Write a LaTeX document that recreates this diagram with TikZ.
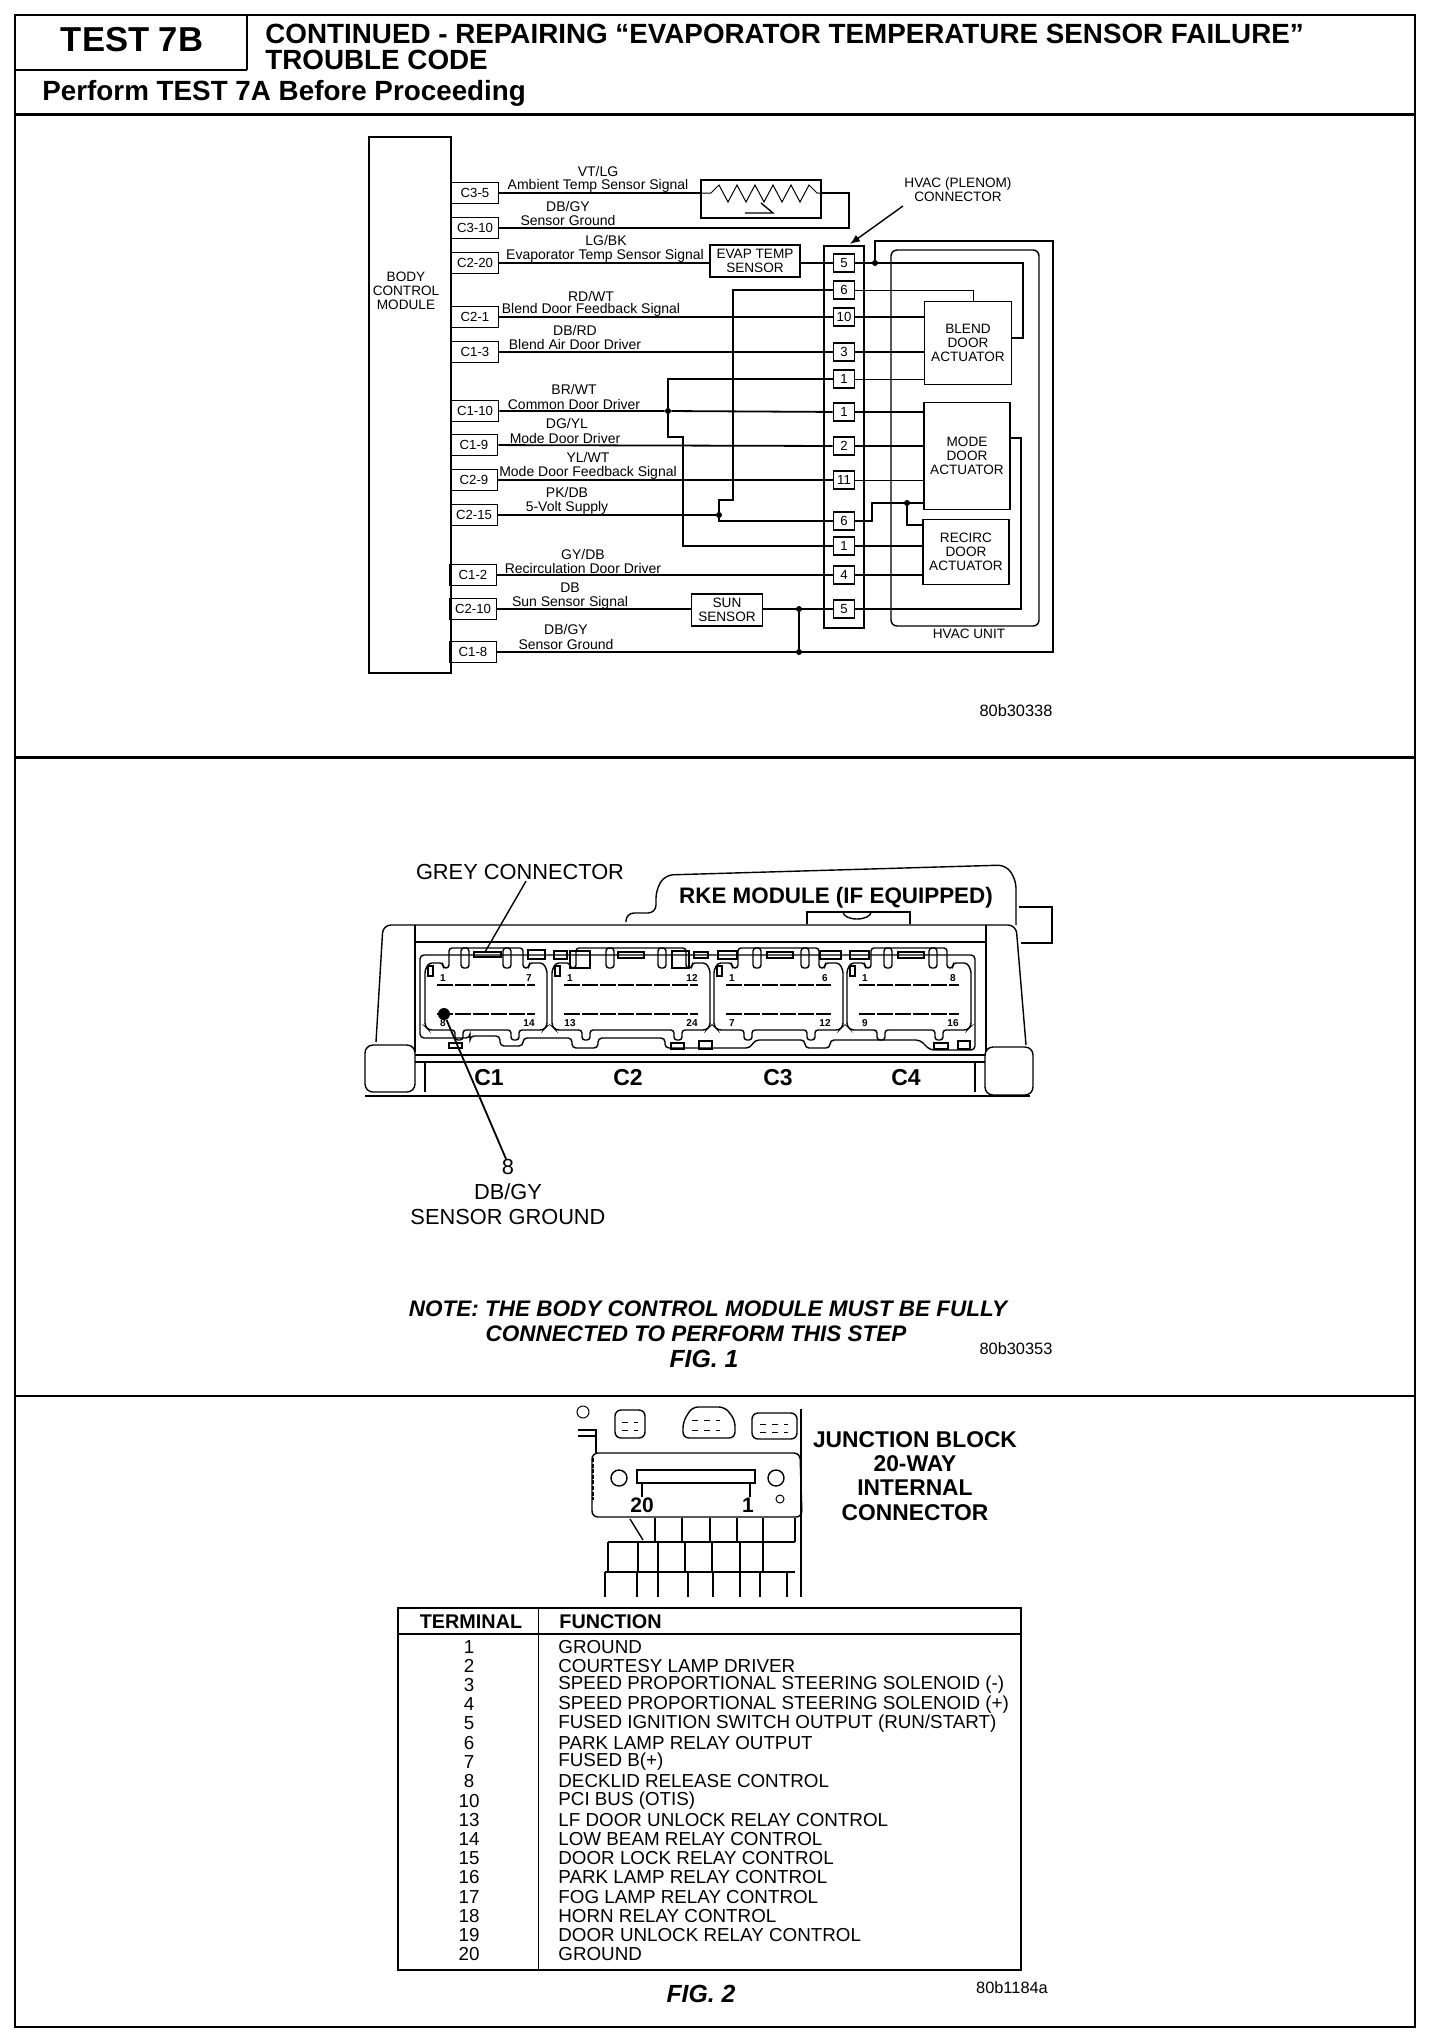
\documentclass[tikz,border=0pt]{standalone}
\usepackage{fontspec}
\setmainfont{Liberation Sans}
\usetikzlibrary{calc}
\usetikzlibrary{positioning}
\usetikzlibrary{arrows.meta}
\newcommand{\fsz}[2]{\fontsize{#1}{#2}\selectfont}
\begin{document}
\begin{tikzpicture}[
    x = .5pt,
    y = -.5pt,
    frameline/.style = {line width=1.4pt},
    wire/.style = {line width=.9pt},
    thinwire/.style = {line width=.5pt},
    part/.style = {line width=.7pt},
    conn/.style = {
      rectangle,
      draw,
      line width=.8pt,
      minimum width=23.5pt,
      minimum height=10.5pt,
      inner sep=0pt,
      font=\fsz{6.6}{7}
    },
    pin/.style = {
      rectangle,
      draw,
      line width=.8pt,
      minimum width=10.5pt,
      minimum height=9pt,
      inner sep=0pt,
      font=\fsz{6.6}{7}
    },
    unit/.style = {
      rectangle,
      draw,
      line width=.8pt,
      inner sep=0pt,
      align=center,
      font=\fsz{6.8}{6.9}
    },
    sig/.style = {inner sep=0pt, font=\fsz{7}{7}},
    stamp/.style = {inner sep=0pt, font=\fsz{8.2}{9}},
    dot/.style = {circle, fill, inner sep=0pt, minimum size=3pt},
    small/.style = {inner sep=0pt, align=center, font=\fsz{6.8}{7}},
    head/.style = {inner sep=0pt, anchor=west, font=\bfseries\fsz{13.9}{14}},
    plain/.style = {inner sep=0pt, align=center, font=\fsz{10.9}{12.5}},
    bold/.style = {inner sep=0pt, align=center, font=\bfseries\fsz{11.4}{12.1}},
    conlabel/.style = {inner sep=0pt, font=\bfseries\fsz{11.5}{12}},
    note/.style = {inner sep=0pt, align=center, font=\bfseries\itshape\fsz{11.25}{12.4}},
    fig/.style = {inner sep=0pt, font=\bfseries\itshape\fsz{12.4}{13}},
    tiny/.style = {inner sep=0pt, font=\bfseries\fsz{5}{5}},
    row/.style = {inner sep=0pt, font=\fsz{9.4}{10}}
  ]
    \useasboundingbox (0,0) rectangle (1440,2042);
    % page frame and panels
    \draw[frameline] (15,15) rectangle (1415,2027);
    \draw[frameline] (15,70) -- (247,70);
    \draw[frameline] (247,15) -- (247,70);
    \draw[frameline] (15,114.5) -- (1415,114.5);
    \draw[frameline] (15,757.5) -- (1415,757.5);
    \draw[frameline] (15,1396) -- (1415,1396);
    \node[head, anchor=center, font=\bfseries\fsz{17.3}{18}] (test) at (132,40) {TEST 7B};
    \node[head] (title) at (265,34) {CONTINUED - REPAIRING ``EVAPORATOR TEMPERATURE SENSOR FAILURE''};
    \node[head] (trouble) at (265,60) {TROUBLE CODE};
    \node[head] (perform) at (42,93) {Perform TEST 7A Before Proceeding};

    % wiring panel
    \node[unit, minimum width=41pt, minimum height=268pt] (bcm) at (410,405) {};
    \node[small] (bcmtext) at (406,291) {BODY\\CONTROL\\MODULE};
    \node[conn] (c35) at (475,193) {C3-5};
    \node[conn] (c310) at (475,228) {C3-10};
    \node[conn] (c220) at (475,263) {C2-20};
    \node[conn] (c21) at (475,317) {C2-1};
    \node[conn] (c13) at (475,352) {C1-3};
    \node[conn] (c110) at (475,411) {C1-10};
    \node[conn] (c19) at (474,445) {C1-9};
    \node[conn] (c29) at (474,480) {C2-9};
    \node[conn] (c215) at (474,515) {C2-15};
    \node[conn] (c12) at (473,575) {C1-2};
    \node[conn] (c210) at (473,609) {C2-10};
    \node[conn] (c18) at (473,652) {C1-8};
    \node[unit, minimum width=60pt, minimum height=19pt] (ambient) at (761,199) {};
    \node[unit, minimum width=45pt, minimum height=16pt] (evap) at (755,261) {EVAP TEMP\\SENSOR};
    \node[unit, minimum width=35.5pt, minimum height=16pt] (sun) at (727,610) {SUN\\SENSOR};
    \node[unit, minimum width=20pt, minimum height=191pt] (strip) at (844,437) {};
    \node[unit, minimum width=43.5pt, minimum height=41.5pt] (blend) at (968,343) {BLEND\\DOOR\\ACTUATOR};
    \node[unit, minimum width=43pt, minimum height=53.5pt] (mode) at (967,456) {MODE\\DOOR\\ACTUATOR};
    \node[unit, minimum width=43pt, minimum height=32.5pt] (recirc) at (966,552) {RECIRC\\DOOR\\ACTUATOR};
    \node[pin] (p5) at (844,263) {5};
    \node[pin] (p6) at (844,290) {6};
    \node[pin] (p10) at (844,317) {10};
    \node[pin] (p3) at (844,352) {3};
    \node[pin] (p1a) at (844,379) {1};
    \node[pin] (p1b) at (844,412) {1};
    \node[pin] (p2) at (844,446) {2};
    \node[pin] (p11) at (844,480) {11};
    \node[pin] (p6b) at (844,521) {6};
    \node[pin] (p1c) at (844,546) {1};
    \node[pin] (p4) at (844,575) {4};
    \node[pin] (p5b) at (844,609) {5};

    \node[dot] (dota) at (875,263) {};
    \node[dot] (dotb) at (668,411) {};
    \node[dot] (dotc) at (719,515) {};
    \node[dot] (dotd) at (907,503) {};
    \node[dot] (dote) at (799,609) {};
    \node[dot] (dotf) at (799,652) {};

    \draw[wire] (c35) -- (c35 -| ambient.west);
    \draw[wire] (c310) -- (849,228) -- (849,193) -- (ambient.east |- c35);
    \draw[wire] (c220) -- (c220 -| evap.west);
    \draw[wire] (evap.east |- p5) -- (p5);
    \draw[wire] (p5) -- (1023,263) -- (1023,338) -- (blend.east |- 0,338);
    \draw[wire] (dota) -- (875,241) -- (1053,241) -- (1053,652) -- (dotf);
    \draw[wire] (c18) -- (dotf);
    \draw[wire] (dotf) -- (dote);
    \draw[wire] (c210) -- (sun.west |- c210);
    \draw[wire] (sun.east |- p5b) -- (p5b);
    \draw[wire] (p5b) -- (1021,609) -- (1021,438) -- (mode.east |- 0,438);
    \draw[thinwire] (p6) -- (973,290) -- (blend.north -| 973,0);
    \draw[wire] (p6) -- (733,290) -- (733,500) -- (719,500) -- (dotc);
    \draw[wire] (c215) -- (dotc);
    \draw[wire] (dotc) -- (719,521) -- (p6b);
    \draw[wire] (c21) -- (p10);
    \draw[wire] (p10) -- (p10 -| blend.west);
    \draw[wire] (c13) -- (p3);
    \draw[wire] (p3) -- (p3 -| blend.west);
    \draw[thinwire] (p1a) -- (p1a -| blend.west);
    \draw[wire] (p1a) -- (668,379) -- (dotb);
    \draw[wire] (c110) -- (dotb) -- (p1b);
    \draw[wire] (p1b) -- (p1b -| mode.west);
    \draw[wire] (dotb) -- (668,437) -- (683,437) -- (683,546) -- (p1c);
    \draw[wire] (c19) -- (p2);
    \draw[wire] (p2) -- (p2 -| mode.west);
    \draw[wire] (c29) -- (p11);
    \draw[thinwire] (p11) -- (p11 -| mode.west);
    \draw[wire] (p6b) -- (872,521) -- (872,503) -- (mode.west |- 0,503);
    \draw[wire] (dotd) -- (907,525) -- (recirc.west |- 0,525);
    \draw[wire] (p1c) -- (p1c -| recirc.west);
    \draw[wire] (c12) -- (p4);
    \draw[wire] (p4) -- (p4 -| recirc.west);
    % hvac unit outline
    \draw[part, rounded corners=3pt] (891,626) -- (891,250) -- (1039,250) -- (1039,626) -- cycle;
    \node[small] (hvacunit) at (969,634) {HVAC UNIT};
    \node[small] (plenom) at (958,190) {HVAC (PLENOM)\\CONNECTOR};
    \coordinate (plenomtail) at (903,206);
    \draw[part, -{Latex[length=5pt,width=4pt]}] (plenomtail) -- (850,244);
    % ambient sensor symbol
    \draw[thinwire] (ambient.west |- c35) -- (711,193) -- (719,185) -- (728,202) -- (737,185) -- (746,202)
      -- (755,185) -- (764,202) -- (773,185) -- (782,202) -- (791,185) -- (800,202) -- (809,185)
      -- (817,193) -- (ambient.east |- c35);
    \draw[part] (745,213) -- (773,213) -- (761,203);

    \node[sig] (s1) at (598,171) {VT/LG};
    \node[sig] (s2) at (598,186) {Ambient Temp Sensor Signal};
    \node[sig] (s3) at (568,206) {DB/GY};
    \node[sig] (s4) at (568,220) {Sensor Ground};
    \node[sig] (s5) at (606,240) {LG/BK};
    \node[sig] (s6) at (605,256) {Evaporator Temp Sensor Signal};
    \node[sig] (s7) at (591,296) {RD/WT};
    \node[sig] (s8) at (591,310) {Blend Door Feedback Signal};
    \node[sig] (s9) at (575,330) {DB/RD};
    \node[sig] (s10) at (575,344) {Blend Air Door Driver};
    \node[sig] (s11) at (574,389) {BR/WT};
    \node[sig] (s12) at (574,404) {Common Door Driver};
    \node[sig] (s13) at (567,423) {DG/YL};
    \node[sig] (s14) at (565,438) {Mode Door Driver};
    \node[sig] (s15) at (588,457) {YL/WT};
    \node[sig] (s16) at (588,473) {Mode Door Feedback Signal};
    \node[sig] (s17) at (567,492) {PK/DB};
    \node[sig] (s18) at (567,508) {5-Volt Supply};
    \node[sig] (s19) at (583,554) {GY/DB};
    \node[sig] (s20) at (583,568) {Recirculation Door Driver};
    \node[sig] (s21) at (570,588) {DB};
    \node[sig] (s22) at (570,603) {Sun Sensor Signal};
    \node[sig] (s23) at (566,629) {DB/GY};
    \node[sig] (s24) at (566,644) {Sensor Ground};
    \node[stamp] (fig0) at (1016,711) {80b30338};

    % body control module drawing
    \draw[part, rounded corners=4pt] (626,922) -- (626,913) -- (656,913) -- (656,890) -- (665,875) -- (1006,865) -- (1016,880) -- (1016,925);
    \draw[part] (1019,907) -- (1052,907) -- (1052,943) -- (1021,943);
    \draw[part] (807,924) -- (807,912) -- (910,912) -- (910,924);
    \draw[part] (843,912) arc (180:0:14 and 7);
    \draw[part, rounded corners=4pt] (376,1042) -- (383,925) -- (1016,925) -- (1026,1045);
    \draw[part] (415,925) -- (415,1052);
    \draw[part] (986,925) -- (986,1052);
    \draw[part] (415,942) -- (986,942);
    \draw[part, rounded corners=4pt] (365,1045) -- (415,1045) -- (415,1092) -- (365,1092) -- cycle;
    \draw[part, rounded corners=4pt] (985,1047) -- (1033,1047) -- (1033,1095) -- (985,1095) -- cycle;
    \draw[part] (415,1055) -- (986,1055);
    \draw[part] (415,1062) -- (985,1062);
    \draw[line width=1pt] (365,1096) -- (1030,1096);
    \draw[part] (425,1062) -- (425,1092);
    \draw[part] (975,1062) -- (975,1092);
    \foreach \xl/\xr/\la/\lb/\aa/\ab/\ac/\ad in {425/547/461/503/1/7/8/14, 552/710/606/658/1/12/13/24, 714/843/753/801/1/6/7/12, 847/971/884/929/1/8/9/16} {
      \draw[part, rounded corners=1.5pt] (\xl,970) -- (\xl+4,963) -- (\xl+18,963) -- (\xl+18,968)
        -- (\xl+24,968) -- (\xl+24,948) -- (\xr-24,948) -- (\xr-24,968) -- (\xr-18,968) -- (\xr-18,963)
        -- (\xr-4,963) -- (\xr,970) -- (\xr,1026) -- (\xr-4,1030) -- (\xr-28,1030) -- (\xr-28,1040)
        -- (\xr-36,1040) -- (\xr-36,1030) -- (\xl+38,1030) -- (\xl+38,1040) -- (\xl+30,1040)
        -- (\xl+30,1030) -- (\xl+4,1030) -- (\xl,1026) -- cycle;
      \draw[part, rounded corners=1.5pt] (\la,948) rectangle (\la+8,968);
      \draw[part, rounded corners=1.5pt] (\lb,948) rectangle (\lb+8,968);
      \draw[part] (\xl+3,966) rectangle (\xl+8,976);
      \draw[line width=1.4pt, dash pattern=on 8pt off 1pt] (\xl+12,985) -- (\xr-12,985);
      \draw[line width=1.4pt, dash pattern=on 8pt off 1pt] (\xl+12,1014) -- (\xr-12,1014);
      \node[tiny] at (\xl+18,978) {\aa};
      \node[tiny] at (\xr-18,978) {\ab};
      \node[tiny] at (\xl+18,1023) {\ac};
      \node[tiny] at (\xr-18,1023) {\ad};
    }
    \foreach \ra/\rb/\rc/\rd in {474/501/952/957, 528/545/950/959, 554/567/951/959, 570/590/951/968, 618/644/952/958,
      672/689/951/968, 694/708/952/958, 718/737/951/959, 767/793/952/958, 820/841/951/959, 850/869/951/959, 898/924/952/958} {
      \draw[part] (\ra,\rc) rectangle (\rb,\rd);
    }
    \draw[part, rounded corners=2pt] (420,955) -- (420,1038) -- (470,1038) -- (470,1036) -- (500,1036) -- (500,1046)
      -- (523,1046) -- (523,1038) -- (572,1038) -- (572,1048) -- (598,1048) -- (598,1038) -- (665,1038)
      -- (665,1048) -- (750,1048) -- (755,1040) -- (805,1040) -- (805,1048) -- (830,1048) -- (830,1040)
      -- (920,1040) -- (930,1050) -- (975,1050) -- (975,955) -- cycle;
    \draw[part] (449,1043) rectangle (462,1048);
    \draw[part] (671,1043) rectangle (684,1049);
    \draw[part] (699,1041) rectangle (712,1049);
    \draw[part] (934,1043) rectangle (948,1049);
    \draw[part] (958,1041) rectangle (970,1049);

    \node[plain] (grey) at (520,872) {GREY CONNECTOR};
    \node[conlabel, font=\bfseries\fsz{11.2}{12}] (rke) at (836,898) {RKE MODULE (IF EQUIPPED)};
    \node[conlabel] (cone) at (489,1078) {C1};
    \node[conlabel] (ctwo) at (628,1078) {C2};
    \node[conlabel] (cthree) at (778,1078) {C3};
    \node[conlabel] (cfour) at (906,1078) {C4};
    \coordinate (greyend) at (485,952);
    \draw[part] (grey.south) ++(6,1) coordinate (greyst) -- (greyend);
    \node[circle, fill, inner sep=0pt, minimum size=6pt] (pineight) at (444,1014) {};
    \node[plain] (eight) at (508,1192) {8\\DB/GY\\SENSOR GROUND};
    \draw[wire] (pineight) -- (eight.north -| 506,0);
    \node[note] (notetxt) at (708,1309) {NOTE: THE BODY CONTROL MODULE MUST BE FULLY};
    \node[note] (notetwo) at (696,1334) {CONNECTED TO PERFORM THIS STEP};
    \node[fig] (figone) at (704,1359) {FIG. 1};
    \node[stamp] (fig1) at (1016,1349) {80b30353};

    % junction block drawing
    \draw[part] (801,1409) -- (801,1597);
    \draw[part, rounded corners=3pt] (615,1410) rectangle (645,1438);
    \draw[part, rounded corners=3pt] (683,1422) -- (692,1407) -- (725,1407) -- (735,1420) -- (735,1438) -- (683,1438) -- cycle;
    \draw[part, rounded corners=3pt] (752,1413) rectangle (797,1439);
    \foreach \tx/\ty/\tw in {622/1422/16, 692/1420/28, 760/1424/28, 622/1430/16, 692/1430/28, 760/1432/28} {
      \draw[thinwire, dashed] (\tx,\ty) -- ++(\tw,0);
    }
    \draw[thinwire] (583,1412) circle (6);
    \draw[part] (578,1430) -- (596,1430) -- (596,1453);
    \draw[part] (578,1436) -- (596,1436);
    \draw[part, rounded corners=3pt] (592,1517) -- (592,1453) -- (800,1453) -- (802,1517) -- cycle;
    \draw[line width=1.2pt] (637,1483) -- (637,1470) -- (755,1470) -- (755,1483) -- cycle;
    \draw[line width=1.2pt] (642,1497) -- (642,1483);
    \draw[line width=1.2pt] (750,1497) -- (750,1483);
    \draw[part] (619,1478) circle (8);
    \draw[part] (776,1478) circle (8);
    \draw[thinwire] (780,1499) circle (4);
    \draw[line width=1.4pt, dash pattern=on 2pt off .8pt] (593,1458) -- (593,1500);
    \node[conlabel, font=\bfseries\fsz{10.5}{11}] (twenty) at (642,1505) {20};
    \node[conlabel, font=\bfseries\fsz{10.5}{11}] (one) at (748,1505) {1};
    \foreach \gx in {655,682,710,737,763,795} {
      \draw[part] (\gx,1518) -- (\gx,1542);
    }
    \foreach \gx in {608,638,658,685,712,740,763} {
      \draw[part] (\gx,1542) -- (\gx,1572);
    }
    \foreach \gx in {605,637,658,688,713,740,760,787} {
      \draw[part] (\gx,1572) -- (\gx,1597);
    }
    \draw[part] (608,1542) -- (795,1542);
    \draw[part] (605,1572) -- (795,1572);
    \draw[part] (630,1519) -- (643,1540);
    \node[bold] (jblock) at (915,1476) {JUNCTION BLOCK\\20-WAY\\INTERNAL\\CONNECTOR};

    % terminal table
    \draw[line width=.9pt] (398,1608) rectangle (1021,1970);
    \draw[line width=.9pt] (398,1634) -- (1021,1634);
    \draw[line width=.9pt] (538.5,1608) -- (538.5,1970);
    \node[inner sep=0pt, font=\bfseries\fsz{9.9}{10}] (termhead) at (471,1622) {TERMINAL};
    \node[inner sep=0pt, anchor=west, font=\bfseries\fsz{9.9}{10}] (funchead) at (559,1622) {FUNCTION};
    \foreach \tn/\tf [count=\i] in {1/{GROUND}, 2/{COURTESY LAMP DRIVER},
      3/{SPEED PROPORTIONAL STEERING SOLENOID (-)}, 4/{SPEED PROPORTIONAL STEERING SOLENOID (+)},
      5/{FUSED IGNITION SWITCH OUTPUT (RUN/START)}, 6/{PARK LAMP RELAY OUTPUT}, 7/{FUSED B(+)},
      8/{DECKLID RELEASE CONTROL}, 10/{PCI BUS (OTIS)}, 13/{LF DOOR UNLOCK RELAY CONTROL},
      14/{LOW BEAM RELAY CONTROL}, 15/{DOOR LOCK RELAY CONTROL}, 16/{PARK LAMP RELAY CONTROL},
      17/{FOG LAMP RELAY CONTROL}, 18/{HORN RELAY CONTROL}, 19/{DOOR UNLOCK RELAY CONTROL},
      20/{GROUND}} {
      \node[row] (tn\i) at (469,{1646.6+(\i-1)*19.24}) {\tn};
      \node[row, anchor=west] (tf\i) at (558,{1646.6+(\i-1)*19.24}) {\tf};
    }
    \node[fig] (figtwo) at (701,1994) {FIG. 2};
    \node[stamp] (fig2) at (1012,1988) {80b1184a};
  \end{tikzpicture}
\end{document}
